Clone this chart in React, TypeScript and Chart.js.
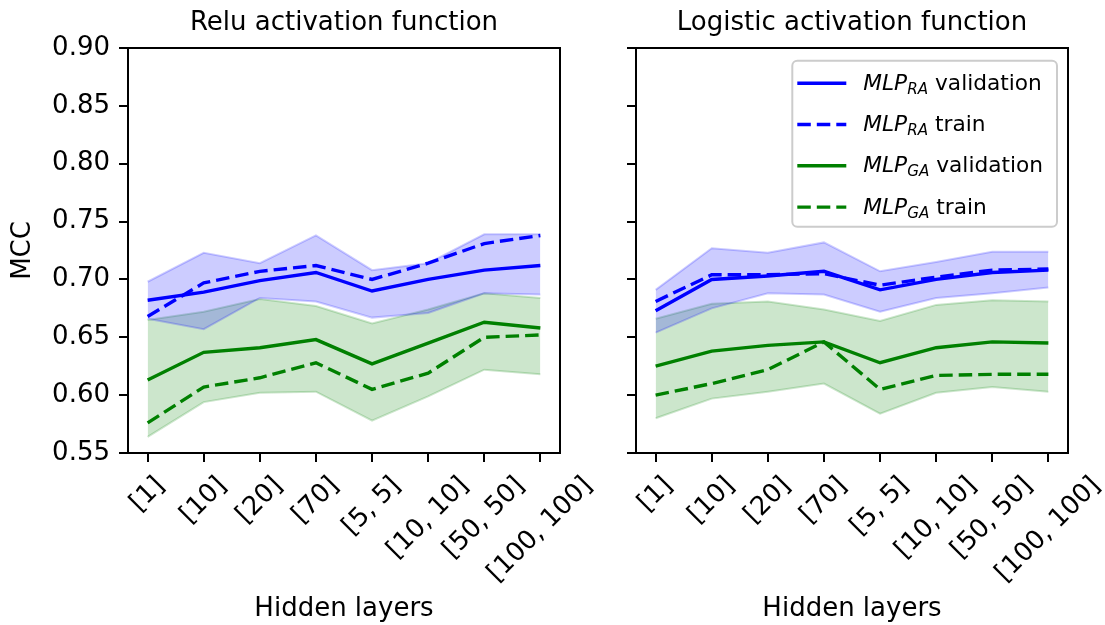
import React, { useEffect, useRef } from 'react';
import { Chart, registerables } from 'chart.js';

Chart.register(...registerables);

const FONT = '"DejaVu Sans", sans-serif';

// ---------- data ----------
const categories = ['[1]', '[10]', '[20]', '[70]', '[5, 5]', '[10, 10]', '[50, 50]', '[100, 100]'];
const yTicks = [0.55, 0.6, 0.65, 0.7, 0.75, 0.8, 0.85, 0.9];

// Relu activation function
const reluRaVal = [0.682, 0.689, 0.699, 0.706, 0.690, 0.700, 0.708, 0.712];
const reluRaTrain = [0.668, 0.697, 0.707, 0.712, 0.700, 0.714, 0.731, 0.738];
const reluRaUpper = [0.698, 0.723, 0.714, 0.738, 0.708, 0.714, 0.739, 0.739];
const reluRaLower = [0.666, 0.657, 0.684, 0.681, 0.667, 0.671, 0.688, 0.687];
const reluGaVal = [0.613, 0.637, 0.641, 0.648, 0.627, 0.645, 0.663, 0.658];
const reluGaTrain = [0.576, 0.607, 0.615, 0.628, 0.605, 0.619, 0.650, 0.652];
const reluGaUpper = [0.665, 0.672, 0.683, 0.677, 0.662, 0.674, 0.688, 0.684];
const reluGaLower = [0.564, 0.594, 0.602, 0.603, 0.578, 0.599, 0.622, 0.618];

// Logistic activation function
const logRaVal = [0.673, 0.700, 0.703, 0.707, 0.691, 0.700, 0.706, 0.708];
const logRaTrain = [0.681, 0.704, 0.704, 0.705, 0.695, 0.702, 0.708, 0.709];
const logRaUpper = [0.691, 0.727, 0.723, 0.732, 0.707, 0.715, 0.724, 0.724];
const logRaLower = [0.654, 0.675, 0.688, 0.687, 0.672, 0.684, 0.688, 0.693];
const logGaVal = [0.625, 0.638, 0.643, 0.646, 0.628, 0.641, 0.646, 0.645];
const logGaTrain = [0.600, 0.610, 0.622, 0.646, 0.605, 0.617, 0.618, 0.618];
const logGaUpper = [0.666, 0.679, 0.681, 0.674, 0.664, 0.678, 0.682, 0.681];
const logGaLower = [0.580, 0.597, 0.603, 0.610, 0.584, 0.602, 0.607, 0.603];

const legendSubs = ['RA', 'RA', 'GA', 'GA'];
const legendSuffixes = ['validation', 'train', 'validation', 'train'];

// ---------- styling ----------
const BLUE = '#0000ff';
const GREEN = '#008000';
const BLUE_BAND = 'rgba(0,0,255,0.2)';
const GREEN_BAND = 'rgba(0,128,0,0.2)';
const LINE_W = 3.4;
const DASH = [13.5, 6];
const TICK_FONT = 26;
const LEGEND_FONT = 21.7;
const H = 625;
const AREA_BOTTOM = 453;

type Series = {
  raVal: number[]; raTrain: number[]; raUpper: number[]; raLower: number[];
  gaVal: number[]; gaTrain: number[]; gaUpper: number[]; gaLower: number[];
};

const pts = (arr: number[]) => arr.map((v, i) => ({ x: i, y: v }));

function makeDatasets(s: Series) {
  const line = (data: number[], color: string, dashed: boolean) => ({
    data: pts(data),
    borderColor: color,
    backgroundColor: color,
    borderWidth: LINE_W,
    borderDash: dashed ? DASH : [],
    pointRadius: 0,
    fill: false,
    tension: 0,
  });
  const band = (data: number[], color: string, fill: any) => ({
    data: pts(data),
    borderColor: color,
    backgroundColor: color,
    borderWidth: 2,
    pointRadius: 0,
    fill,
    tension: 0,
  });
  return [
    line(s.raVal, BLUE, false),
    line(s.raTrain, BLUE, true),
    line(s.gaVal, GREEN, false),
    line(s.gaTrain, GREEN, true),
    band(s.raUpper, BLUE_BAND, 5),
    band(s.raLower, BLUE_BAND, false),
    band(s.gaUpper, GREEN_BAND, 7),
    band(s.gaLower, GREEN_BAND, false),
  ];
}

type PanelProps = {
  title: string;
  series: Series;
  canvasLeft: number;
  canvasWidth: number;
  areaLeft: number;
  areaRight: number;
  showYLabels: boolean;
  showLegend: boolean;
};

function drawLegend(chart: any) {
  const { ctx, chartArea: ca } = chart;
  const colors = [BLUE, BLUE, GREEN, GREEN];
  const dashed = [false, true, false, true];
  const subFs = LEGEND_FONT * 0.7;
  const widths = legendSubs.map((sub, k) => {
    ctx.font = `italic ${LEGEND_FONT}px ${FONT}`;
    const wM = ctx.measureText('MLP').width;
    ctx.font = `italic ${subFs}px ${FONT}`;
    const wS = ctx.measureText(sub).width;
    ctx.font = `${LEGEND_FONT}px ${FONT}`;
    const wT = ctx.measureText(' ' + legendSuffixes[k]).width;
    return { wM, wS, wT, total: wM + wS + wT };
  });
  const maxW = Math.max(...widths.map((w) => w.total));
  const boxW = 71 + maxW + 14;
  const boxRight = ca.right - 11;
  const boxLeft = boxRight - boxW;
  const boxTop = ca.top + 12.7;
  const boxH = 166;
  ctx.save();
  ctx.beginPath();
  if ((ctx as any).roundRect) (ctx as any).roundRect(boxLeft, boxTop, boxW, boxH, 5);
  else ctx.rect(boxLeft, boxTop, boxW, boxH);
  ctx.fillStyle = 'rgba(255,255,255,0.8)';
  ctx.fill();
  ctx.strokeStyle = '#cccccc';
  ctx.lineWidth = 2;
  ctx.stroke();
  legendSubs.forEach((sub, k) => {
    const y = boxTop + 22.5 + k * 41.3;
    ctx.beginPath();
    ctx.setLineDash(dashed[k] ? DASH : []);
    ctx.strokeStyle = colors[k];
    ctx.lineWidth = LINE_W;
    ctx.moveTo(boxLeft + 5, y);
    ctx.lineTo(boxLeft + 54, y);
    ctx.stroke();
    ctx.setLineDash([]);
    const base = y + 6.5;
    let x = boxLeft + 71;
    ctx.fillStyle = '#000';
    ctx.textAlign = 'left';
    ctx.textBaseline = 'alphabetic';
    ctx.font = `italic ${LEGEND_FONT}px ${FONT}`;
    ctx.fillText('MLP', x, base);
    x += widths[k].wM;
    ctx.font = `italic ${subFs}px ${FONT}`;
    ctx.fillText(sub, x, base + 4);
    x += widths[k].wS;
    ctx.font = `${LEGEND_FONT}px ${FONT}`;
    ctx.fillText(' ' + legendSuffixes[k], x, base);
  });
  ctx.restore();
}

function Panel(props: PanelProps) {
  const ref = useRef<HTMLCanvasElement>(null);
  useEffect(() => {
    const canvas = ref.current!;
    const overlay = {
      id: 'overlay',
      afterDraw(chart: any) {
        const { ctx, chartArea: ca } = chart;
        const xs = chart.scales.x;
        ctx.save();
        ctx.strokeStyle = '#000';
        ctx.lineWidth = 2;
        ctx.strokeRect(ca.left, ca.top, ca.right - ca.left, ca.bottom - ca.top);
        ctx.fillStyle = '#000';
        ctx.font = `${TICK_FONT}px ${FONT}`;
        const h = TICK_FONT * 1.164;
        categories.forEach((lab, i) => {
          const x = xs.getPixelForValue(i);
          const w = ctx.measureText(lab).width;
          const D = (w + h) * Math.SQRT1_2;
          const cy = ca.bottom + 9 + 9 + D / 2;
          ctx.save();
          ctx.translate(x, cy);
          ctx.rotate(-Math.PI / 4);
          ctx.textAlign = 'center';
          ctx.textBaseline = 'middle';
          ctx.fillText(lab, 0, 0);
          ctx.restore();
        });
        ctx.restore();
        if (props.showLegend) drawLegend(chart);
      },
    };
    const chart = new Chart(canvas, {
      type: 'line',
      data: { datasets: makeDatasets(props.series) as any },
      options: {
        animation: false,
        responsive: false,
        maintainAspectRatio: false,
        events: [],
        layout: {
          padding: { left: 0, top: 0, bottom: 0, right: props.canvasWidth - props.areaRight },
        },
        plugins: {
          legend: { display: false },
          tooltip: { enabled: false },
          title: {
            display: true,
            text: props.title,
            fullSize: false,
            color: '#000',
            font: { family: FONT, size: 26, weight: 'normal' as any },
            padding: { top: 8, bottom: 8.8 },
          },
        },
        scales: {
          x: {
            type: 'linear',
            min: -0.35,
            max: categories.length - 1 + 0.35,
            afterBuildTicks: (scale: any) => {
              scale.ticks = categories.map((_, i) => ({ value: i }));
            },
            afterFit: (scale: any) => {
              scale.height = H - AREA_BOTTOM;
            },
            grid: {
              drawOnChartArea: false,
              drawTicks: true,
              tickLength: 9,
              color: '#000',
              lineWidth: 2,
            },
            border: { display: false },
            ticks: { display: false },
            title: {
              display: true,
              text: 'Hidden layers',
              color: '#000',
              font: { family: FONT, size: 26 },
              padding: { top: 0, bottom: 0 },
            },
          },
          y: {
            type: 'linear',
            min: 0.55,
            max: 0.9,
            afterBuildTicks: (scale: any) => {
              scale.ticks = yTicks.map((v) => ({ value: v }));
            },
            afterFit: (scale: any) => {
              scale.width = props.areaLeft;
            },
            grid: {
              drawOnChartArea: false,
              drawTicks: true,
              tickLength: 9,
              color: '#000',
              lineWidth: 2,
            },
            border: { display: false },
            ticks: {
              display: props.showYLabels,
              color: '#000',
              padding: 9,
              font: { family: FONT, size: TICK_FONT },
              callback: (v: any) => Number(v).toFixed(2),
            },
            title: {
              display: props.showYLabels,
              text: 'MCC',
              color: '#000',
              font: { family: FONT, size: 26 },
              padding: { top: 8, bottom: 0 },
            },
          },
        },
      },
      plugins: [overlay],
    } as any);
    return () => chart.destroy();
  }, []);
  return (
    <canvas
      ref={ref}
      width={props.canvasWidth}
      height={H}
      style={{ position: 'absolute', left: props.canvasLeft, top: 0, width: props.canvasWidth, height: H }}
    />
  );
}

const reluSeries: Series = {
  raVal: reluRaVal, raTrain: reluRaTrain, raUpper: reluRaUpper, raLower: reluRaLower,
  gaVal: reluGaVal, gaTrain: reluGaTrain, gaUpper: reluGaUpper, gaLower: reluGaLower,
};
const logSeries: Series = {
  raVal: logRaVal, raTrain: logRaTrain, raUpper: logRaUpper, raLower: logRaLower,
  gaVal: logGaVal, gaTrain: logGaTrain, gaUpper: logGaUpper, gaLower: logGaLower,
};

export default function App() {
  return (
    <div style={{ position: 'fixed', left: 0, top: 0, width: 1105, height: H, background: '#fff', overflow: 'hidden' }}>
      <Panel
        title="Relu activation function"
        series={reluSeries}
        canvasLeft={0}
        canvasWidth={620}
        areaLeft={128}
        areaRight={560}
        showYLabels={true}
        showLegend={false}
      />
      <Panel
        title="Logistic activation function"
        series={logSeries}
        canvasLeft={575}
        canvasWidth={530}
        areaLeft={61}
        areaRight={493}
        showYLabels={false}
        showLegend={true}
      />
    </div>
  );
}
